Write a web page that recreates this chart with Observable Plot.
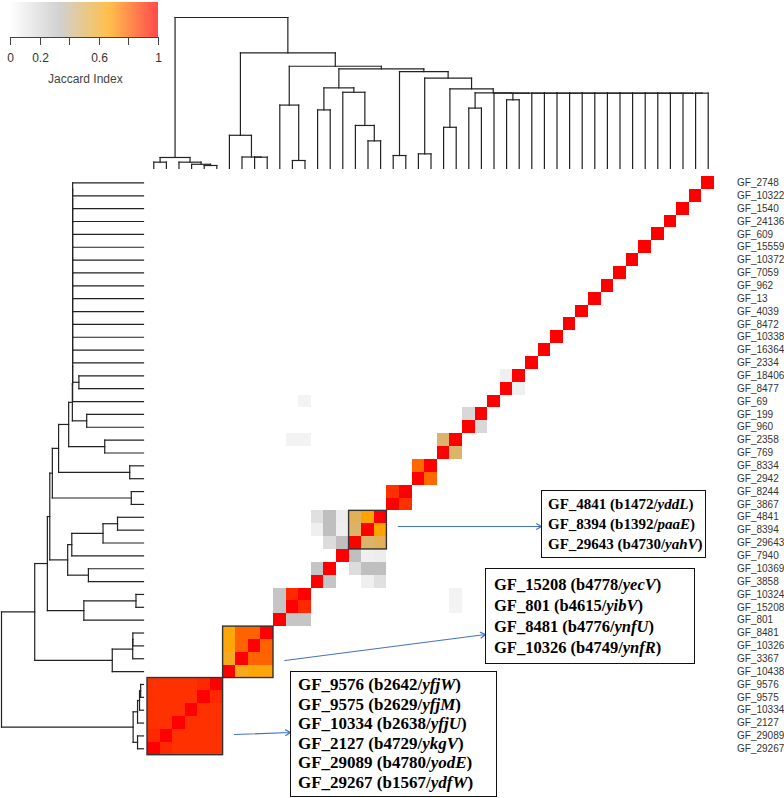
<!DOCTYPE html>
<html>
<head>
<meta charset="utf-8">
<script src="https://cdn.jsdelivr.net/npm/d3@7"></script>
<script src="https://cdn.jsdelivr.net/npm/@observablehq/plot@0.6"></script>
<style>
  html, body { margin: 0; padding: 0; background: #fff; }
  #chart { position: relative; width: 784px; height: 798px; overflow: hidden; background: #fff; }
  #chart > svg { position: absolute; left: 0; top: 0; }
  #legend { position: absolute; left: 0; top: 0; }
  #legend image { opacity: 0.7; }
  .note { position: absolute; box-sizing: border-box; border: 1.3px solid #111; background: #fff;
    font-family: "Liberation Serif", "Times New Roman", serif; font-weight: bold;
    white-space: nowrap; color: #000; }
  .note i { font-style: italic; }
  .legend-title { position: absolute; font-family: "Liberation Sans", Arial, sans-serif; font-size: 12px; color: #444; }
</style>
</head>
<body>
<div id="chart"></div>
<script>
// ---------------- data ----------------
const labels = ["GF_2748","GF_10322","GF_1540","GF_24136","GF_609","GF_15559","GF_10372","GF_7059","GF_962","GF_13",
  "GF_4039","GF_8472","GF_10338","GF_16364","GF_2334","GF_18406","GF_8477","GF_69","GF_199","GF_960",
  "GF_2358","GF_769","GF_8334","GF_2942","GF_8244","GF_3867","GF_4841","GF_8394","GF_29643","GF_7940",
  "GF_10369","GF_3858","GF_10324","GF_15208","GF_801","GF_8481","GF_10326","GF_3367","GF_10438","GF_9576",
  "GF_9575","GF_10334","GF_2127","GF_29089","GF_29267"];

// off-diagonal Jaccard indices (diagonal = 1)
const jaccardPairs = [
  ["GF_9576","GF_9575",0.92],["GF_9576","GF_10334",0.9],["GF_9576","GF_2127",0.9],["GF_9576","GF_29089",0.9],["GF_9576","GF_29267",0.9],
  ["GF_9575","GF_10334",0.9],["GF_9575","GF_2127",0.9],["GF_9575","GF_29089",0.9],["GF_9575","GF_29267",0.9],
  ["GF_10334","GF_2127",0.9],["GF_10334","GF_29089",0.9],["GF_10334","GF_29267",0.9],
  ["GF_2127","GF_29089",0.9],["GF_2127","GF_29267",0.9],["GF_29089","GF_29267",0.92],
  ["GF_8481","GF_10326",0.8],["GF_8481","GF_3367",0.8],["GF_10326","GF_3367",0.8],
  ["GF_8481","GF_10438",0.65],["GF_10326","GF_10438",0.65],["GF_3367","GF_10438",0.62],
  ["GF_10324","GF_15208",0.92],["GF_10324","GF_801",0.3],["GF_15208","GF_801",0.3],
  ["GF_10369","GF_3858",0.3],
  ["GF_4841","GF_8394",0.67],["GF_4841","GF_29643",0.51],["GF_8394","GF_29643",0.48],
  ["GF_4841","GF_7940",0.09],["GF_4841","GF_10369",0.33],["GF_4841","GF_3858",0.16],
  ["GF_8394","GF_7940",0.08],["GF_8394","GF_10369",0.33],["GF_8394","GF_3858",0.08],
  ["GF_29643","GF_7940",0.33],["GF_29643","GF_10369",0.18],
  ["GF_8244","GF_3867",0.9],["GF_8334","GF_2942",0.79],["GF_2358","GF_769",0.48],
  ["GF_199","GF_960",0.2],["GF_18406","GF_8477",0.08],
  ["GF_69","GF_10324",0.06],["GF_2358","GF_10324",0.06],["GF_2358","GF_15208",0.06]
];

// hierarchical clustering: [childA, childB, height]; "mK" refers to the K-th merge
const merges = [
  ["GF_9575","GF_9576",0.020],["GF_10334","m0",0.028],["GF_2127","m1",0.042],["GF_29267","GF_29089",0.042],
  ["m3","m2",0.073],["GF_10326","GF_8481",0.075],["GF_3367","m5",0.076],["GF_15208","GF_10324",0.053],
  ["GF_3867","GF_8244",0.086],["GF_2942","GF_8334",0.097],["GF_8394","GF_4841",0.183],["GF_10438","m6",0.22],
  ["GF_769","GF_2358",0.273],["GF_29643","m10",0.285],["GF_3858","GF_10369",0.388],["GF_960","GF_199",0.40],
  ["GF_801","m7",0.42],["GF_8477","GF_18406",0.455],
  ["GF_10322","GF_2748",0.499],["GF_1540","m18",0.499],["GF_24136","m19",0.499],["GF_609","m20",0.499],
  ["GF_15559","m21",0.499],["GF_10372","m22",0.499],["GF_7059","m23",0.499],["GF_962","m24",0.499],
  ["GF_13","m25",0.499],["GF_4039","m26",0.499],["GF_8472","m27",0.499],["GF_10338","m28",0.499],
  ["GF_16364","m29",0.499],["GF_2334","m30",0.499],["m17","m31",0.499],["GF_69","m32",0.499],
  ["m15","m33",0.501],["GF_7940","m13",0.505],["m12","m34",0.527],["m14","m35",0.534],
  ["m9","m36",0.598],["m8","m38",0.642],["m37","m39",0.66],["m16","m40",0.677],
  ["m11","m41",0.766],["m4","m42",1.0]
];

const legendTicks = [0, 0.2, 0.4, 0.6, 0.8, 1];
const legendTickLabels = ["0", "0.2", "", "0.6", "", "1"];
const legendTitle = "Jaccard Index";

const highlightA = ["GF_4841","GF_8394","GF_29643"];
const highlightB = ["GF_8481","GF_10326","GF_3367","GF_10438"];
const highlightC = ["GF_9576","GF_9575","GF_10334","GF_2127","GF_29089","GF_29267"];

const noteA_ids = ["GF_4841","GF_8394","GF_29643"];
const noteA_loci = ["b1472","b1392","b4730"];
const noteA_genes = ["yddL","paaE","yahV"];
const noteB_ids = ["GF_15208","GF_801","GF_8481","GF_10326"];
const noteB_loci = ["b4778","b4615","b4776","b4749"];
const noteB_genes = ["yecV","yibV","ynfU","ynfR"];
const noteC_ids = ["GF_9576","GF_9575","GF_10334","GF_2127","GF_29089","GF_29267"];
const noteC_loci = ["b2642","b2629","b2638","b4729","b4780","b1567"];
const noteC_genes = ["yfjW","yfjM","yfjU","ykgV","yodE","ydfW"];

// ---------------- layout ----------------
const W = 784, H = 798;
const heatXRange = [147, 714], heatYRange = [176, 754.7];
const topDendroY = [168, 17];   // height 0 -> 1
const leftDendroX = [143, 1];   // height 0 -> 1
const n = labels.length;
const rowIndex = new Map(labels.map((d, i) => [d, i]));

const colorScale = {type: "linear", domain: [0, 1/3, 2/3, 1], range: ["#ffffff", "#bebebe", "#ffa500", "#ff0000"], interpolate: "rgb"};

// cells
const cells = labels.map((d, i) => ({r: i, c: n - 1 - i, v: 1}));
for (const [a, b, v] of jaccardPairs) {
  const i = rowIndex.get(a), j = rowIndex.get(b);
  cells.push({r: i, c: n - 1 - j, v});
  cells.push({r: j, c: n - 1 - i, v});
}

// dendrogram segments
const pos = new Map(), hgt = new Map();
labels.forEach((d, i) => { pos.set(d, i + 0.5); hgt.set(d, 0); });
const segs = [];
merges.forEach(([a, b, h], k) => {
  const pa = pos.get(a), pb = pos.get(b);
  segs.push({p1: pa, h1: h, p2: pb, h2: h});
  segs.push({p1: pa, h1: hgt.get(a), p2: pa, h2: h});
  segs.push({p1: pb, h1: hgt.get(b), p2: pb, h2: h});
  pos.set("m" + k, (pa + pb) / 2); hgt.set("m" + k, h);
});

function blockOf(group) {
  const rows = group.map(g => rowIndex.get(g));
  const r1 = d3.min(rows), r2 = d3.max(rows) + 1;
  return {x1: n - r2, x2: n - r1, y1: r1, y2: r2};
}
const blocks = [highlightA, highlightB, highlightC].map(blockOf);

// annotation box layout (pixels) and arrow anchors
const noteLayout = [
  {ids: noteA_ids, loci: noteA_loci, genes: noteA_genes, left: 541, top: 490, width: 165,
   font: 15, lineH: 20, pad: "3px 6px", arrowStartY: 526, arrowEndY: 526},
  {ids: noteB_ids, loci: noteB_loci, genes: noteB_genes, left: 485, top: 568, width: 210,
   font: 16.5, lineH: 21, pad: "5px 8px", arrowStartY: 660, arrowEndY: 634},
  {ids: noteC_ids, loci: noteC_loci, genes: noteC_genes, left: 290, top: 671, width: 207,
   font: 17, lineH: 19.6, pad: "3px 7px", arrowStartY: 734, arrowEndY: 732}
];

const chart = document.getElementById("chart");
const transparent = {background: "transparent", overflow: "visible"};

// heatmap
const xs = d3.scaleLinear().domain([0, n]).range(heatXRange);
const ys = d3.scaleLinear().domain([0, n]).range(heatYRange);
const arrows = noteLayout.map((nl, k) => ({
  x1: blocks[k].x2 + 0.9, y1: ys.invert(nl.arrowStartY),
  x2: xs.invert(nl.left), y2: ys.invert(nl.arrowEndY)
}));

const heat = Plot.plot({
  width: W, height: H, style: transparent,
  x: {domain: [0, n], range: heatXRange, axis: null},
  y: {domain: [0, n], range: heatYRange, axis: null},
  color: colorScale,
  marks: [
    Plot.rect(cells.filter(d => d.v > 0), {x1: d => d.c, x2: d => d.c + 1, y1: d => d.r, y2: d => d.r + 1, fill: "v", shapeRendering: "crispEdges"}),
    Plot.rect(blocks, {x1: "x1", x2: "x2", y1: "y1", y2: "y2", fill: "none", stroke: "#333", strokeWidth: 1.4}),
    Plot.text(labels, {x: n, y: (d, i) => i + 0.5, text: d => d, dx: 22.5, textAnchor: "start",
      fontFamily: "Liberation Sans, Arial, Helvetica, sans-serif", fontSize: 10, fill: "#333"}),
    Plot.arrow(arrows, {x1: "x1", y1: "y1", x2: "x2", y2: "y2", stroke: "#4472c4", strokeWidth: 1.2, headLength: 7})
  ]
});
chart.appendChild(heat);

// top dendrogram
const topD = Plot.plot({
  width: W, height: H, style: transparent,
  x: {domain: [0, n], range: heatXRange, axis: null},
  y: {domain: [0, 1], range: topDendroY, axis: null},
  marks: [
    Plot.link(segs, {x1: d => n - d.p1, y1: "h1", x2: d => n - d.p2, y2: "h2", stroke: "#222", strokeWidth: 1.2, strokeLinecap: "square"})
  ]
});
chart.appendChild(topD);

// left dendrogram
const leftD = Plot.plot({
  width: W, height: H, style: transparent,
  x: {domain: [0, 1], range: leftDendroX, axis: null},
  y: {domain: [0, n], range: heatYRange, axis: null},
  marks: [
    Plot.link(segs, {x1: "h1", y1: "p1", x2: "h2", y2: "p2", stroke: "#222", strokeWidth: 1.2, strokeLinecap: "square"})
  ]
});
chart.appendChild(leftD);

// legend
const legWrap = document.createElement("div");
legWrap.id = "legend";
const leg = heat.legend("color", {
  width: 175, height: 70, marginLeft: 10, marginRight: 17, marginTop: 2, marginBottom: 33,
  ticks: legendTicks, tickFormat: d => legendTickLabels[legendTicks.indexOf(d)], tickSize: 8, label: null,
  style: {fontSize: "12px", fontFamily: "Liberation Sans, Arial, Helvetica, sans-serif", color: "#333", background: "transparent", overflow: "visible"}
});
legWrap.appendChild(leg);
chart.appendChild(legWrap);
leg.querySelectorAll(".tick line").forEach(l => { l.setAttribute("y1", "0"); l.setAttribute("stroke", "#444"); });
leg.querySelectorAll(".tick text").forEach(t => t.setAttribute("y", "16"));
const ax = document.createElementNS("http://www.w3.org/2000/svg", "line");
ax.setAttribute("x1", 10); ax.setAttribute("x2", 158); ax.setAttribute("y1", 37.5); ax.setAttribute("y2", 37.5);
ax.setAttribute("stroke", "#444");
leg.appendChild(ax);
const lt = document.createElement("div");
lt.className = "legend-title"; lt.textContent = legendTitle;
lt.style.left = "48px"; lt.style.top = "72px";
chart.appendChild(lt);

// annotation boxes
for (const nl of noteLayout) {
  const div = document.createElement("div");
  div.className = "note";
  div.style.left = nl.left + "px"; div.style.top = nl.top + "px"; div.style.width = nl.width + "px";
  div.style.fontSize = nl.font + "px"; div.style.lineHeight = nl.lineH + "px"; div.style.padding = nl.pad;
  nl.ids.forEach((id, i) => {
    const line = document.createElement("div");
    line.append(id + " (" + nl.loci[i] + "/");
    const it = document.createElement("i"); it.textContent = nl.genes[i];
    line.append(it, ")");
    div.appendChild(line);
  });
  chart.appendChild(div);
}
</script>
</body>
</html>
